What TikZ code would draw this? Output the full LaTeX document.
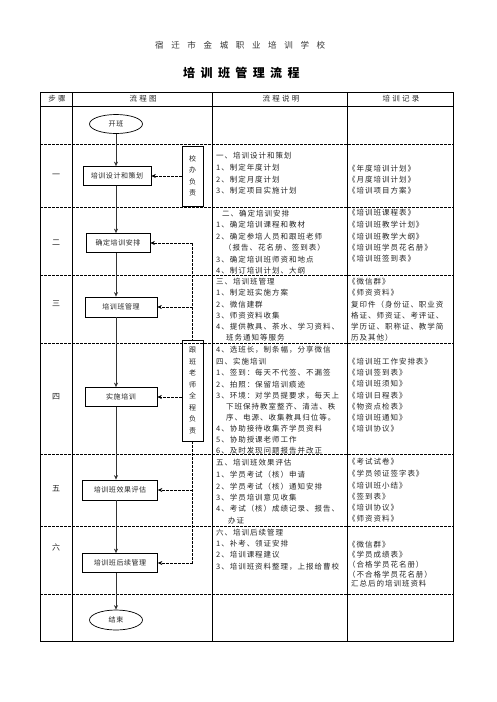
\documentclass[tikz,border=0pt]{standalone}
\usepackage{fontspec}
\usetikzlibrary{arrows.meta,shapes.geometric}
\newfontfamily\cjk{Noto Sans CJK SC}
\newfontfamily\cjkd[LetterSpace=13]{Noto Sans CJK SC}
\newfontfamily\cjkt[LetterSpace=90]{Noto Sans CJK SC}
\newfontfamily\cjkm[LetterSpace=45]{Noto Sans CJK SC}
\newfontfamily\cjkh[LetterSpace=30]{Noto Sans CJK SC}
\newfontfamily\cjkn[LetterSpace=8]{Noto Sans CJK SC}
\begin{document}
\begin{tikzpicture}[x=1pt,y=-1pt,
  txt/.style={anchor=west, inner sep=0pt, font=\cjkd\fontsize{7.5}{9}\selectfont, text=black!85},
  hdr/.style={inner sep=0pt, font=\cjkh\fontsize{7.5}{9}\selectfont, text=black!85},
  steplbl/.style={inner sep=0pt, font=\cjk\fontsize{8}{9}\selectfont, text=black!85},
  fbox/.style={draw, line width=0.7pt, inner sep=0pt, font=\cjkn\fontsize{7}{8}\selectfont, text=black!85},
  oval/.style={ellipse, draw, line width=0.7pt, inner sep=0pt, font=\cjkn\fontsize{7}{8}\selectfont, text=black!85},
  vbox/.style={draw, line width=0.7pt, inner sep=0pt, align=center, font=\cjk\fontsize{7}{11.5}\selectfont, text=black!85},
  border/.style={line width=0.8pt},
  rowsep/.style={line width=0.6pt, dash pattern=on 2.5pt off 1.5pt},
  flowarrow/.style={line width=0.9pt, black!80, -{Stealth[length=4.5pt,width=4pt]}},
  fbarrow/.style={line width=0.6pt, dash pattern=on 2.5pt off 1.5pt, -{Stealth[length=4.5pt,width=4pt]}},
  fbline/.style={line width=0.6pt, dash pattern=on 2.5pt off 1.5pt}
]
\useasboundingbox (0,0) rectangle (496,702);
\fill[white] (0,0) rectangle (496,702);

% titles
\node[anchor=west, inner sep=0pt, font=\cjkt\fontsize{8.5}{10}\selectfont, text=black!80] (t1) at (155,45) {宿迁市金城职业培训学校};
\node[anchor=west, inner sep=0pt, font=\cjkm\bfseries\fontsize{12}{14}\selectfont] (t2) at (183,73) {培训班管理流程};

% table frame
\draw[border] (40,92) rectangle (453,641);
\draw[border] (40,106) -- (453,106);
\draw[border] (72,92) -- (72,641);
\draw[border] (212,92) -- (212,641);
\draw[border] (347,92) -- (347,641);
\foreach \yy in {144,207,275,343,454,526,594}
  \draw[rowsep] (40,\yy) -- (453,\yy);

% header
\node[hdr] (h1) at (57,99) {步骤};
\node[hdr] (h2) at (143,99) {流程图};
\node[hdr] (h3) at (281,99) {流程说明};
\node[hdr] (h4) at (401,99) {培训记录};

% step labels
\node[steplbl] (n1) at (56,176) {一};
\node[steplbl] (n2) at (56,243) {二};
\node[steplbl] (n3) at (56,304) {三};
\node[steplbl] (n4) at (56,397) {四};
\node[steplbl] (n5) at (56,489) {五};
\node[steplbl] (n6) at (56,547) {六};

% flow nodes
\node[oval, minimum width=53pt, minimum height=19pt] (kb) at (116,124) {开班};
\node[fbox, minimum width=68pt, minimum height=19pt] (b1) at (117,176) {培训设计和策划};
\node[fbox, minimum width=64pt, minimum height=19pt] (b2) at (118,243) {确定培训安排};
\node[fbox, minimum width=72pt, minimum height=20pt] (b3) at (121,307) {培训班管理};
\node[fbox, minimum width=72pt, minimum height=19pt] (b4) at (121,397) {实施培训};
\node[fbox, minimum width=75pt, minimum height=20pt] (b5) at (120,490) {培训班效果评估};
\node[fbox, minimum width=75pt, minimum height=19pt] (b6) at (120,563) {培训班后续管理};
\node[oval, minimum width=53pt, minimum height=20pt] (ke) at (116,620) {结束};
\node[vbox, minimum width=21pt, minimum height=60pt] (s1) at (192.5,176) {校\\办\\负\\责};
\node[vbox, minimum width=21pt, minimum height=101pt] (s2) at (192.5,390.5) {跟\\班\\老\\师\\全\\程\\负\\责};

% flow arrows
\draw[flowarrow] (kb.south) -- (kb.south |- b1.north);
\draw[flowarrow] (kb.south |- b1.south) -- (kb.south |- b2.north);
\draw[flowarrow] (kb.south |- b2.south) -- (kb.south |- b3.north);
\draw[flowarrow] (kb.south |- b3.south) -- (kb.south |- b4.north);
\draw[flowarrow] (kb.south |- b4.south) -- (kb.south |- b5.north);
\draw[flowarrow] (kb.south |- b5.south) -- (kb.south |- b6.north);
\draw[flowarrow] (kb.south |- b6.south) -- (ke.north);

% feedback
\draw[fbarrow] (s1.west) -- (s1.west -| b1.east);
\draw[fbline] (s2.north |- b2.east) -- (s2.north);
\draw[fbarrow] (s2.north |- b2.east) -- (b2.east);
\draw[fbarrow] (s2.north |- b3.east) -- (b3.east);
\draw[fbarrow] (s2.west |- b4.east) -- (b4.east);
\draw[fbline] (s2.south) -- (s2.south |- b6.east);
\draw[fbarrow] (s2.south |- b5.east) -- (b5.east);
\draw[fbarrow] (s2.south |- b6.east) -- (b6.east);

% description
\node[txt] (d01) at (216,156) {一、培训设计和策划};
\node[txt] (d02) at (216,168) {1、制定年度计划};
\node[txt] (d03) at (216,180) {2、制定月度计划};
\node[txt] (d04) at (216,191) {3、制定项目实施计划};
\node[txt] (d05) at (222,214) {二、确定培训安排};
\node[txt] (d06) at (216,225) {1、确定培训课程和教材};
\node[txt] (d07) at (216,237) {2、确定参培人员和跟班老师};
\node[txt] (d08) at (224,248) {（报告、花名册、签到表）};
\node[txt] (d09) at (216,260) {3、确定培训班师资和地点};
\node[txt] (d10) at (216,271) {4、制订培训计划、大纲};
\node[txt] (d11) at (216,282) {三、培训班管理};
\node[txt] (d12) at (216,293) {1、制定班实施方案};
\node[txt] (d13) at (216,305) {2、微信建群};
\node[txt] (d14) at (216,316) {3、师资资料收集};
\node[txt] (d15) at (216,327) {4、提供教具、茶水、学习资料、};
\node[txt] (d16) at (226,338) {班务通知等服务};
\node[txt] (d17) at (216,350) {4、选班长，制条幅，分享微信};
\node[txt] (d18) at (216,362) {四、实施培训};
\node[txt] (d19) at (216,373) {1、签到：每天不代签、不漏签};
\node[txt] (d20) at (216,385) {2、拍照：保留培训痕迹};
\node[txt] (d21) at (216,396) {3、环境：对学员提要求，每天上};
\node[txt] (d22) at (226,407) {下班保持教室整齐、清洁、秩};
\node[txt] (d23) at (226,418) {序、电源、收集教具归位等。};
\node[txt] (d24) at (216,429) {4、协助接待收集齐学员资料};
\node[txt] (d25) at (216,440) {5、协助授课老师工作};
\node[txt] (d26) at (216,451) {6、及时发现问题报告并改正};
\node[txt] (d27) at (216,463) {五、培训班效果评估};
\node[txt] (d28) at (216,475) {1、学员考试（核）申请};
\node[txt] (d29) at (216,487) {2、学员考试（核）通知安排};
\node[txt] (d30) at (216,498) {3、学员培训意见收集};
\node[txt] (d31) at (216,509) {4、考试（核）成绩记录、报告、};
\node[txt] (d32) at (228,521) {办证};
\node[txt] (d33) at (216,533) {六、培训后续管理};
\node[txt] (d34) at (216,544) {1、补考、领证安排};
\node[txt] (d35) at (216,555) {2、培训课程建议};
\node[txt] (d36) at (216,567) {3、培训班资料整理，上报给曹校};

% records
\node[txt] (r01) at (348,169) {《年度培训计划》};
\node[txt] (r02) at (348,180) {《月度培训计划》};
\node[txt] (r03) at (348,191) {《培训项目方案》};
\node[txt] (r04) at (348,213) {《培训班课程表》};
\node[txt] (r05) at (348,225) {《培训班教学计划》};
\node[txt] (r06) at (348,237) {《培训班教学大纲》};
\node[txt] (r07) at (348,248) {《培训班学员花名册》};
\node[txt] (r08) at (348,259) {《培训班签到表》};
\node[txt] (r09) at (348,282) {《微信群》};
\node[txt] (r10) at (348,293) {《师资资料》};
\node[txt] (r11) at (351,305) {复印件（身份证、职业资};
\node[txt] (r12) at (351,316) {格证、师资证、考评证、};
\node[txt] (r13) at (351,327) {学历证、职称证、教学简};
\node[txt] (r14) at (351,338) {历及其他）};
\node[txt] (r15) at (348,362) {《培训班工作安排表》};
\node[txt] (r16) at (348,373) {《培训签到表》};
\node[txt] (r17) at (348,384) {《培训班须知》};
\node[txt] (r18) at (348,396) {《培训日程表》};
\node[txt] (r19) at (348,407) {《物资点检表》};
\node[txt] (r20) at (348,418) {《培训班通知》};
\node[txt] (r21) at (348,429) {《培训协议》};
\node[txt] (r22) at (348,462) {《考试试卷》};
\node[txt] (r23) at (348,474) {《学员领证签字表》};
\node[txt] (r24) at (348,486) {《培训班小结》};
\node[txt] (r25) at (348,497) {《签到表》};
\node[txt] (r26) at (348,508) {《培训协议》};
\node[txt] (r27) at (348,519) {《师资资料》};
\node[txt] (r28) at (348,545) {《微信群》};
\node[txt] (r29) at (348,555) {《学员成绩表》};
\node[txt] (r30) at (348,565) {（合格学员花名册）};
\node[txt] (r31) at (348,575) {（不合格学员花名册）};
\node[txt] (r32) at (351,584) {汇总后的培训班资料};
\end{tikzpicture}
\end{document}
